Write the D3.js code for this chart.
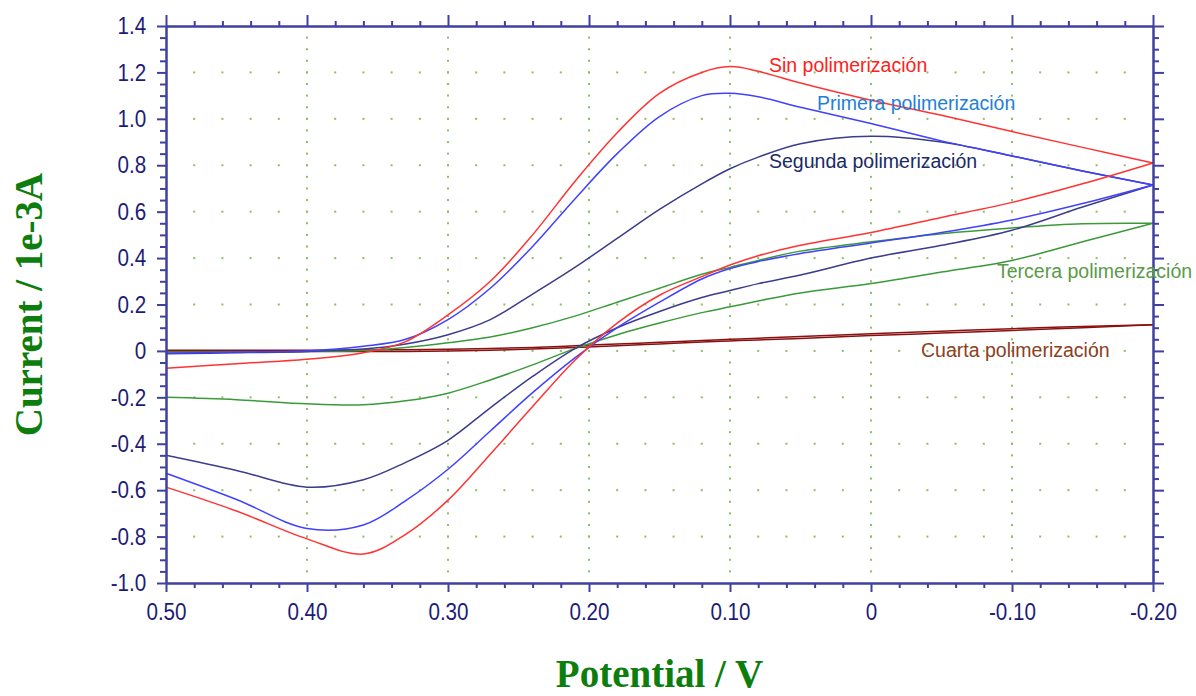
<!DOCTYPE html>
<html>
<head>
<meta charset="utf-8">
<script src="https://cdn.jsdelivr.net/npm/d3@7"></script>
<style>
  body { margin: 0; background: #fff; }
  svg { display: block; }
</style>
</head>
<body>
<script>
// potential grid (V)
var potential = [0.50, 0.45, 0.40, 0.36, 0.33, 0.30, 0.27, 0.24, 0.21, 0.18, 0.15, 0.12, 0.10, 0.08, 0.05, 0.00, -0.05, -0.10, -0.15, -0.20];

// current (1e-3 A), forward branch 0.50 -> -0.20 and return branch on the same grid
var sinFwd = [-0.075, -0.055, -0.036, -0.008, 0.04, 0.155, 0.30, 0.50, 0.73, 0.94, 1.11, 1.20, 1.225, 1.205, 1.154, 1.08, 1.015, 0.945, 0.877, 0.81];
var sinRev = [-0.587, -0.69, -0.81, -0.875, -0.79, -0.643, -0.445, -0.24, -0.04, 0.12, 0.24, 0.32, 0.37, 0.41, 0.455, 0.51, 0.575, 0.64, 0.72, 0.81];

var primFwd = [-0.01, -0.005, 0.0, 0.02, 0.05, 0.135, 0.27, 0.45, 0.655, 0.85, 1.01, 1.10, 1.11, 1.095, 1.05, 0.98, 0.905, 0.84, 0.775, 0.715];
var primRev = [-0.527, -0.64, -0.765, -0.75, -0.645, -0.51, -0.345, -0.18, -0.03, 0.10, 0.21, 0.31, 0.355, 0.385, 0.42, 0.465, 0.51, 0.564, 0.635, 0.715];

var segFwd = [-0.012, -0.008, -0.002, 0.008, 0.03, 0.07, 0.135, 0.245, 0.36, 0.485, 0.61, 0.72, 0.785, 0.835, 0.893, 0.925, 0.90, 0.84, 0.775, 0.715];
var segRev = [-0.45, -0.515, -0.587, -0.555, -0.48, -0.385, -0.245, -0.11, 0.01, 0.10, 0.17, 0.23, 0.26, 0.29, 0.327, 0.40, 0.455, 0.52, 0.62, 0.715];

var terFwd = [-0.005, -0.004, -0.002, 0.002, 0.015, 0.035, 0.06, 0.10, 0.15, 0.21, 0.27, 0.33, 0.36, 0.39, 0.43, 0.47, 0.505, 0.53, 0.548, 0.55];
var terRev = [-0.20, -0.21, -0.228, -0.232, -0.215, -0.182, -0.125, -0.06, 0.01, 0.07, 0.12, 0.165, 0.19, 0.215, 0.25, 0.29, 0.34, 0.39, 0.47, 0.55];

var cuaFwd = [0.003, 0.003, 0.003, 0.004, 0.005, 0.007, 0.01, 0.015, 0.022, 0.03, 0.037, 0.045, 0.05, 0.055, 0.062, 0.074, 0.085, 0.096, 0.105, 0.113];
var cuaRev = [-0.003, -0.003, -0.003, -0.003, -0.002, 0.0, 0.003, 0.008, 0.015, 0.022, 0.03, 0.038, 0.043, 0.047, 0.054, 0.066, 0.077, 0.088, 0.10, 0.113];

var seriesNames = ["Sin polimerización", "Primera polimerización", "Segunda polimerización", "Tercera polimerización", "Cuarta polimerización"];

var xTicks = [0.50, 0.40, 0.30, 0.20, 0.10, 0.00, -0.10, -0.20];
var yTicks = [-1.0, -0.8, -0.6, -0.4, -0.2, 0.0, 0.2, 0.4, 0.6, 0.8, 1.0, 1.2, 1.4];

var W = 1196, H = 696;
// plot frame (note: "top" is reserved by window, so use pTop etc.)
var pLeft = 166, pRight = 1153, pTop = 26, pBottom = 583;

var x = d3.scaleLinear().domain([0.5, -0.2]).range([pLeft, pRight]);
var y = d3.scaleLinear().domain([-1.0, 1.4]).range([pBottom, pTop]);

var svg = d3.select("body").append("svg").attr("width", W).attr("height", H);

// minor ticks: 0.02 V and 0.05 mA
var xAll = d3.range(-10, 26).map(function(i){ return i * 0.02; });
var yAll = d3.range(-20, 29).map(function(i){ return i * 0.05; });
var xMinor = xAll.filter(function(v){ return Math.abs(Math.round(v * 50) % 5) != 0; });
var yMinor = yAll.filter(function(v){ return Math.abs(Math.round(v * 20) % 4) != 0; });

// dotted grid
var grid = svg.append("g").attr("fill", "#8cbf66");
yTicks.slice(1, -1).forEach(function(yv){
    xAll.slice(1, -1).forEach(function(xv){
        grid.append("rect").attr("x", x(xv) - 1).attr("y", y(yv) - 1).attr("width", 2).attr("height", 2);
    });
});
xTicks.slice(1, -1).forEach(function(xv){
    yAll.slice(1, -1).forEach(function(yv){
        grid.append("rect").attr("x", x(xv) - 1).attr("y", y(yv) - 1).attr("width", 2).attr("height", 2);
    });
});

// curves: each branch drawn on its own so the turning points stay sharp
var line = d3.line()
    .x(function(d){ return x(d[0]); })
    .y(function(d){ return y(d[1]); })
    .curve(d3.curveCatmullRom.alpha(0.5));

function branch(vals) {
    return potential.map(function(e, i){ return [e, vals[i]]; });
}

var curves = [
    { fwd: cuaFwd, rev: cuaRev, color: "#8b1010" },
    { fwd: terFwd, rev: terRev, color: "#3a9a3a" },
    { fwd: segFwd, rev: segRev, color: "#3c3c8c" },
    { fwd: primFwd, rev: primRev, color: "#4040ff" },
    { fwd: sinFwd, rev: sinRev, color: "#ff3333" }
];

var cg = svg.append("g").attr("fill", "none").attr("stroke-width", 1.5);
curves.forEach(function(c){
    cg.append("path").attr("d", line(branch(c.fwd))).attr("stroke", c.color);
    cg.append("path").attr("d", line(branch(c.rev))).attr("stroke", c.color);
});

// axes
var axisColor = "#4040a0";
var labelColor = "#1c1c78";
function fmtY(v){ return Math.abs(v) < 1e-9 ? "0" : v.toFixed(1); }
function fmtX(v){ return Math.abs(v) < 1e-9 ? "0" : v.toFixed(2); }

function drawAxis(ax, tx, ty) {
    var g = svg.append("g").attr("transform", "translate(" + tx + "," + ty + ")").call(ax);
    g.selectAll("path, line").attr("stroke", axisColor).attr("stroke-width", 2);
    // labels in the picture are a bit narrow, so squeeze them horizontally
    g.selectAll("text").attr("fill", labelColor)
        .style("font-family", "Arial, 'Liberation Sans', sans-serif")
        .style("font-size", "24px")
        .attr("transform", "scale(0.86,1)");
    return g;
}

drawAxis(d3.axisBottom(x).tickValues(xMinor).tickSize(5).tickSizeOuter(0).tickFormat(""), 0, pBottom);
drawAxis(d3.axisBottom(x).tickValues(xTicks).tickSize(9).tickSizeOuter(0).tickFormat(fmtX).tickPadding(11), 0, pBottom);
drawAxis(d3.axisTop(x).tickValues(xMinor).tickSize(5).tickSizeOuter(0).tickFormat(""), 0, pTop);
drawAxis(d3.axisTop(x).tickValues(xTicks).tickSize(11).tickSizeOuter(0).tickFormat(""), 0, pTop);

drawAxis(d3.axisLeft(y).tickValues(yMinor).tickSize(6).tickSizeOuter(0).tickFormat(""), pLeft, 0);
drawAxis(d3.axisLeft(y).tickValues(yTicks).tickSize(9).tickSizeOuter(0).tickFormat(fmtY).tickPadding(14), pLeft, 0);
drawAxis(d3.axisRight(y).tickValues(yMinor).tickSize(6).tickSizeOuter(0).tickFormat(""), pRight, 0);
drawAxis(d3.axisRight(y).tickValues(yTicks).tickSize(11).tickSizeOuter(0).tickFormat(""), pRight, 0);

// axis titles
svg.append("text")
    .attr("transform", "translate(42," + ((pTop + pBottom) / 2) + ") rotate(-90)")
    .attr("text-anchor", "middle")
    .attr("fill", "#0d7d0d")
    .style("font-family", "'Times New Roman', 'Liberation Serif', serif")
    .style("font-weight", "bold")
    .style("font-size", "39px")
    .text("Current / 1e-3A");

svg.append("text")
    .attr("x", (pLeft + pRight) / 2)
    .attr("y", 687)
    .attr("text-anchor", "middle")
    .attr("fill", "#0d7d0d")
    .style("font-family", "'Times New Roman', 'Liberation Serif', serif")
    .style("font-weight", "bold")
    .style("font-size", "39px")
    .text("Potential / V");

// series labels
var labelPos = [[769, 72], [817, 110], [769, 168], [997, 278], [921, 357]];
var labelColors = ["#ff2020", "#1f7fd8", "#1a2a66", "#5a9a48", "#8b4020"];
svg.append("g").selectAll("text")
    .data(seriesNames)
    .enter().append("text")
    .attr("x", function(d, i){ return labelPos[i][0]; })
    .attr("y", function(d, i){ return labelPos[i][1]; })
    .attr("fill", function(d, i){ return labelColors[i]; })
    .style("font-family", "Arial, 'Liberation Sans', sans-serif")
    .style("font-size", "19.5px")
    .text(function(d){ return d; });
</script>
</body>
</html>
